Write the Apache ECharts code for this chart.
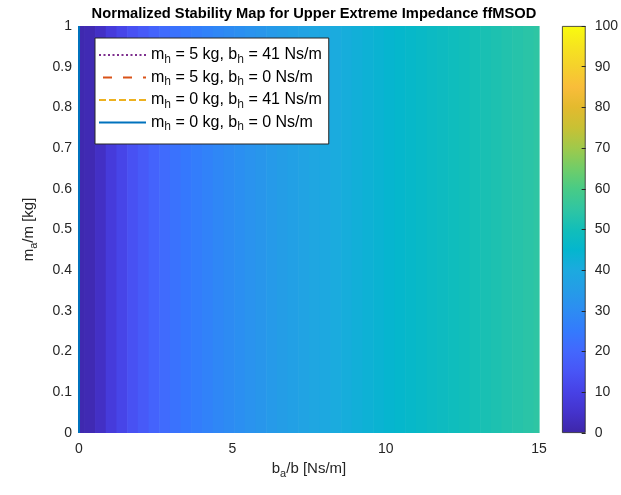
<!DOCTYPE html>
<html>
<head>
<meta charset="utf-8">
<script src="https://cdn.jsdelivr.net/npm/echarts@6/dist/echarts.min.js"></script>
<style>
  html, body { margin: 0; padding: 0; background: #fff; }
  #chart { width: 621px; height: 495px; }
</style>
</head>
<body>
<div id="chart"></div>
<script>
// b_a/b grid: 44 points from 0 to 15
const baMax = 15;
const baPoints = 44;
// normalized stability value at each b_a/b grid point (constant along m_a/m)
const stability = [
  1, 1.5, 4, 8, 11, 14, 16.5, 19, 21, 23,
  24.5, 25.9, 27.2, 28.5, 29.8, 31, 32.1, 33.2, 34.3, 35.4,
  36.5, 37.5, 38.5, 39.4, 40.3, 41.2, 42.1, 43, 43.8, 44.6,
  45.4, 46.2, 46.9, 47.7, 48.4, 49.1, 49.8, 50.5, 51.2, 51.9,
  52.6, 53.3, 54, 54.7
];
// stability boundaries (all lie on b_a/b = 0)
const boundaryNames = [
  'm_h = 5 kg, b_h = 41 Ns/m',
  'm_h = 5 kg, b_h = 0 Ns/m',
  'm_h = 0 kg, b_h = 41 Ns/m',
  'm_h = 0 kg, b_h = 0 Ns/m'
];
const boundaryX = [0, 0, 0, 0];
const boundaryColors = ['#7E2F8E', '#D95319', '#EDB120', '#0072BD'];
const boundaryDash = [[2, 2.5], [9, 11], [7, 3], 'solid'];
const boundaryDashOffset = [0, 16, 0, 0];
// parula colormap, one colour every 5 units
const parula = [
  '#3E26A8', '#4433CC', '#4741E5', '#4855F6', '#4367FD', '#347AFD', '#2D8CF3',
  '#259CE7', '#1CAADF', '#04B6CE', '#12BEB9', '#30C5A2', '#48CB86', '#71CD68',
  '#9FC94B', '#C8C134', '#E3BA2E', '#F9BD3A', '#F5D12C', '#F6E41F', '#F9FB0E'
];

const font = 'Liberation Sans, Arial, Helvetica, sans-serif';
const txt = '#262626';

// image cells centred on each grid point, clipped to the axis range
const step = baMax / (baPoints - 1);
const cells = stability.map((v, i) => [
  Math.max(0, i * step - step / 2),
  Math.min(baMax, i * step + step / 2),
  v
]);

const subRich = (size) => ({
  s: { fontSize: size, fontFamily: font, color: txt, padding: [9, 0, 0, 0] }
});
const sub = (s) => s.replace(/_(\w)/g, '{s|$1}');

const chart = echarts.init(document.getElementById('chart'));

const boundarySeries = boundaryNames.map((name, i) => ({
  name: name,
  type: 'line',
  xAxisIndex: 0,
  yAxisIndex: 0,
  data: [[boundaryX[i], 0], [boundaryX[i], 1]],
  symbol: 'none',
  clip: false,
  z: 5,
  lineStyle: {
    color: boundaryColors[i], width: 2,
    type: boundaryDash[i], dashOffset: boundaryDashOffset[i]
  },
  itemStyle: { color: boundaryColors[i] }
}));

chart.setOption({
  animation: false,
  textStyle: { fontFamily: font },
  title: {
    text: 'Normalized Stability Map for Upper Extreme Impedance ffMSOD',
    left: 309,
    top: 1,
    textAlign: 'center',
    textStyle: { fontSize: 14.7, fontWeight: 'bold', color: '#000', fontFamily: font }
  },
  grid: [
    { left: 79, top: 26, width: 460, height: 407 },
    { left: 562, top: 26, width: 25, height: 407 }
  ],
  xAxis: [
    {
      type: 'value', gridIndex: 0, min: 0, max: 15, interval: 5,
      name: sub('b_a/b [Ns/m]'), nameLocation: 'middle', nameGap: 26,
      nameTextStyle: { fontSize: 15, color: txt, fontFamily: font, rich: subRich(11) },
      axisLine: { show: false }, axisTick: { show: false }, splitLine: { show: false },
      axisLabel: { fontSize: 14, color: txt, margin: 9 }
    },
    {
      type: 'category', gridIndex: 1, data: ['cb'], show: false
    }
  ],
  yAxis: [
    {
      type: 'value', gridIndex: 0, min: 0, max: 1, interval: 0.1,
      name: sub('m_a/m [kg]'), nameLocation: 'middle', nameGap: 40,
      nameTextStyle: { fontSize: 15, color: txt, fontFamily: font, rich: subRich(11) },
      axisLine: { show: false }, axisTick: { show: false }, splitLine: { show: false },
      axisLabel: { fontSize: 14, color: txt, margin: 7 }
    },
    {
      type: 'value', gridIndex: 1, min: 0, max: 100, interval: 10, position: 'right',
      axisLine: { show: false },
      axisTick: { show: true, inside: true, length: 4, lineStyle: { color: txt, width: 1 } },
      splitLine: { show: false },
      axisLabel: { fontSize: 14, color: txt, margin: 9 },
      z: 5
    }
  ],
  visualMap: {
    type: 'continuous', show: false, min: 0, max: 100, dimension: 2, seriesIndex: 0,
    inRange: { color: parula }
  },
  legend: {
    left: 95, top: 38, orient: 'vertical',
    data: boundaryNames,
    backgroundColor: '#fff', borderColor: txt, borderWidth: 1,
    padding: [9, 7, 11, 3],
    itemWidth: 47, itemHeight: 15, itemGap: 4,
    itemStyle: { opacity: 0 },
    formatter: (name) => sub(name),
    textStyle: { fontSize: 16, color: '#000', fontFamily: font, rich: subRich(12) }
  },
  series: [
    {
      type: 'custom',
      xAxisIndex: 0, yAxisIndex: 0,
      data: cells,
      encode: { x: [0, 1], y: 2 },
      renderItem: (params, api) => {
        const p0 = api.coord([api.value(0), 1]);
        const p1 = api.coord([api.value(1), 0]);
        return {
          type: 'rect',
          shape: { x: p0[0], y: p0[1], width: p1[0] - p0[0] + 0.6, height: p1[1] - p0[1] },
          style: { fill: api.visual('color') }
        };
      },
      silent: true
    },
    ...boundarySeries,
    {
      type: 'bar', xAxisIndex: 1, yAxisIndex: 1,
      data: [100], barWidth: '100%', silent: true,
      itemStyle: {
        borderColor: txt, borderWidth: 0.8,
        color: {
          type: 'linear', x: 0, y: 1, x2: 0, y2: 0,
          colorStops: parula.map((c, i) => ({ offset: i / (parula.length - 1), color: c }))
        }
      }
    }
  ]
});
</script>
</body>
</html>
